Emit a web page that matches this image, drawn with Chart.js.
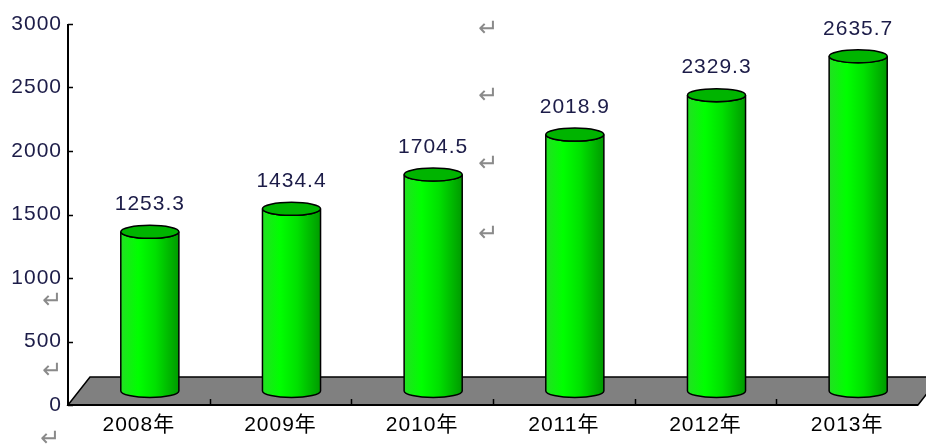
<!DOCTYPE html>
<html>
<head>
<meta charset="utf-8">
<script src="https://cdn.jsdelivr.net/npm/chart.js@4.4.0/dist/chart.umd.min.js"></script>
<style>
html, body { margin: 0; padding: 0; background: #fff; }
</style>
</head>
<body>
<canvas id="chart" width="926" height="445"></canvas>
<script>
// data
const years = ['2008年', '2009年', '2010年', '2011年', '2012年', '2013年'];
const values = [1253.3, 1434.4, 1704.5, 2018.9, 2329.3, 2635.7];
const yTicks = [0, 500, 1000, 1500, 2000, 2500, 3000];

// 3d look
const depthX = 22, depthY = 28, capRy = 6.5;
const fontFam = '"Liberation Sans", Arial, "Noto Sans CJK SC", sans-serif';
// stray paragraph marks from the source document
const returnMarks = [[488, 30], [488, 97], [488, 165], [488, 235], [52, 302], [52, 372], [50, 440]];

const cylinders = {
    id: 'cylinders',
    beforeDraw(chart) {
        chart.ctx.letterSpacing = '1px';
    },
    beforeDatasetsDraw(chart) {
        const ctx = chart.ctx, a = chart.chartArea;
        const x = chart.scales.x, y = chart.scales.y;
        ctx.save();
        // floor
        ctx.beginPath();
        ctx.moveTo(a.left, a.bottom);
        ctx.lineTo(a.left + depthX, a.bottom - depthY);
        ctx.lineTo(a.right + depthX, a.bottom - depthY);
        ctx.lineTo(a.right, a.bottom);
        ctx.closePath();
        ctx.fillStyle = '#808080';
        ctx.fill();
        ctx.lineWidth = 1.5;
        ctx.strokeStyle = '#000';
        ctx.stroke();
        // axes
        ctx.lineWidth = 2;
        ctx.beginPath();
        ctx.moveTo(a.left, a.top);
        ctx.lineTo(a.left, a.bottom);
        ctx.lineTo(a.right, a.bottom);
        ctx.stroke();
        // inward tick marks
        ctx.lineWidth = 1.5;
        ctx.beginPath();
        yTicks.forEach(function(t) {
            const py = Math.round(y.getPixelForValue(t)) + 0.5;
            ctx.moveTo(a.left, py);
            ctx.lineTo(a.left + 5, py);
        });
        const half = (x.getPixelForValue(1) - x.getPixelForValue(0)) / 2;
        for (let i = 0; i < years.length - 1; i++) {
            const px = Math.round(x.getPixelForValue(i) + half) + 0.5;
            ctx.moveTo(px, a.bottom);
            ctx.lineTo(px, a.bottom - 6);
        }
        ctx.stroke();
        ctx.restore();
    },
    afterDatasetsDraw(chart) {
        const ctx = chart.ctx;
        const meta = chart.getDatasetMeta(0);
        ctx.save();
        meta.data.forEach(function(bar, i) {
            const cx = bar.x + depthX / 2;
            const top = bar.y - depthY / 2;
            const bottom = bar.base - depthY / 2;
            const r = bar.width / 2;

            const grad = ctx.createLinearGradient(cx - r, 0, cx + r, 0);
            grad.addColorStop(0, '#22e022');
            grad.addColorStop(0.3, '#00ff00');
            grad.addColorStop(0.6, '#00e000');
            grad.addColorStop(1, '#009a00');

            ctx.beginPath();
            ctx.moveTo(cx - r, top);
            ctx.lineTo(cx - r, bottom);
            ctx.ellipse(cx, bottom, r, capRy, 0, Math.PI, 0, true);
            ctx.lineTo(cx + r, top);
            ctx.ellipse(cx, top, r, capRy, 0, 0, Math.PI, false);
            ctx.closePath();
            ctx.fillStyle = grad;
            ctx.fill();
            ctx.lineWidth = 1.5;
            ctx.strokeStyle = '#000';
            ctx.stroke();

            ctx.beginPath();
            ctx.ellipse(cx, top, r, capRy, 0, 0, Math.PI * 2);
            ctx.fillStyle = '#00b400';
            ctx.fill();
            ctx.stroke();

            ctx.font = '21px ' + fontFam;
            ctx.fillStyle = '#1c1c48';
            ctx.textAlign = 'center';
            ctx.textBaseline = 'middle';
            ctx.fillText(values[i].toFixed(1), cx, top - capRy - 21);
        });
        ctx.restore();
    },
    afterDraw(chart) {
        const ctx = chart.ctx;
        ctx.save();
        ctx.letterSpacing = '0px';
        ctx.font = '24px "DejaVu Sans", sans-serif';
        ctx.fillStyle = '#8a8a8a';
        ctx.textAlign = 'center';
        ctx.textBaseline = 'middle';
        returnMarks.forEach(function(m) {
            ctx.fillText('\u21B5', m[0], m[1]);
        });
        ctx.restore();
    }
};

const chart = new Chart(document.getElementById('chart'), {
    type: 'bar',
    data: {
        labels: years,
        datasets: [{
            data: values,
            backgroundColor: 'rgba(0,0,0,0)',
            borderWidth: 0,
            barPercentage: 0.41,
            categoryPercentage: 1
        }]
    },
    options: {
        responsive: false,
        animation: false,
        devicePixelRatio: 1,
        layout: { padding: { top: 24, right: 8, left: 0, bottom: 0 } },
        plugins: {
            legend: { display: false },
            tooltip: { enabled: false }
        },
        scales: {
            x: {
                grid: { display: false, drawTicks: false },
                border: { display: false },
                ticks: { color: '#000', font: { size: 21, family: fontFam }, padding: 8, maxRotation: 0 },
                afterFit(s) { s.height = 40; }
            },
            y: {
                min: 0,
                max: 3000,
                grid: { display: false, drawTicks: false },
                border: { display: false },
                ticks: {
                    color: '#1c1c48',
                    font: { size: 21, family: fontFam },
                    padding: 6,
                    callback: v => String(v)
                },
                afterBuildTicks(s) { s.ticks = yTicks.map(v => ({ value: v })); },
                afterFit(s) { s.width = 68; }
            }
        }
    },
    plugins: [cylinders]
});
</script>
</body>
</html>
